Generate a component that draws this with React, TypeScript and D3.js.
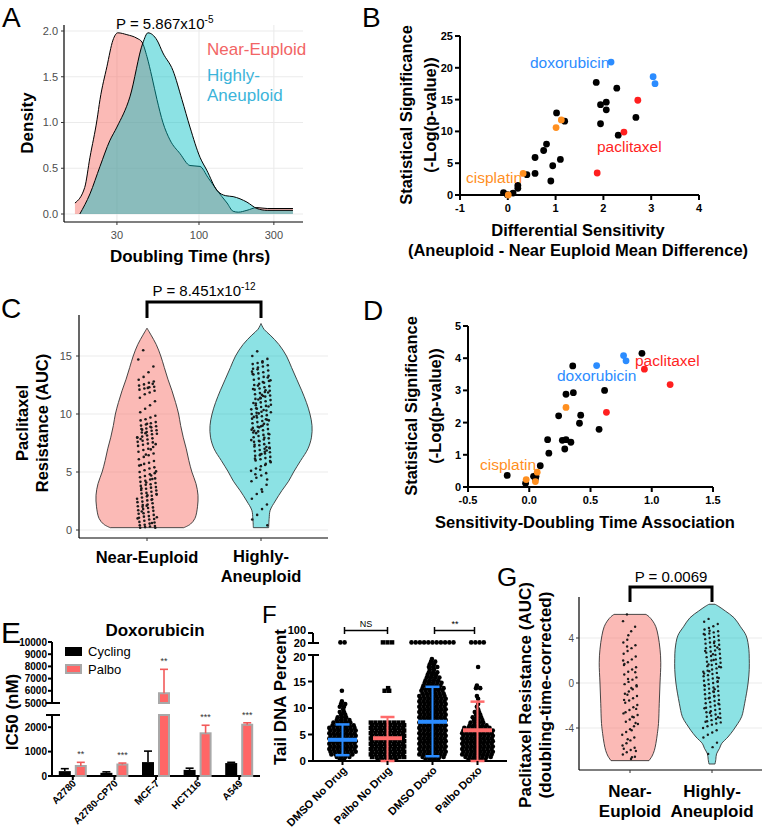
import React from 'react';
import * as d3 from 'd3';

const FONT = "'Liberation Sans', Arial, Helvetica, sans-serif";
const PINK = '#F8766D';
const CYAN = '#00BFC4';
const BLUE = '#2B8CFF';
const RED = '#FF1F1F';
const ORANGE = '#FF8F1F';
const GRID = '#EBEBEB';
const TICKGRAY = '#4D4D4D';

// ---------- Panel A : density of doubling time ----------
const aNearEuploid: [number, number][] = [
  [16.2, 0.12], [18.7, 0.29], [20.2, 0.62], [22.4, 1.03], [23.4, 1.25], [25.9, 1.61], [28.3, 1.9], [30.4, 1.98],
  [34.7, 1.96], [40.3, 1.92], [43.3, 1.88], [46.6, 1.72], [50.1, 1.5], [54, 1.25], [58.9, 1.0], [65.3, 0.81],
  [75.7, 0.66], [87.6, 0.53], [101.5, 0.52], [114, 0.4], [130, 0.26], [151, 0.12], [165, 0.03], [178, 0.02],
  [202, 0.04], [234, 0.07], [272, 0.06], [397, 0.06],
];
const aAneuploid: [number, number][] = [
  [17.4, 0.0], [20.2, 0.22], [23.4, 0.52], [27, 0.8], [30, 0.95], [36.3, 1.28], [43.9, 1.87], [47.3, 1.98],
  [54, 1.9], [58.9, 1.76], [68.2, 1.57], [77.9, 1.25], [87.6, 0.95], [101.5, 0.62], [112, 0.48], [130, 0.26],
  [148, 0.2], [165, 0.19], [202, 0.13], [234, 0.06], [272, 0.04], [397, 0.04],
];
const aXTicks = [30, 100, 300];
const aYTicks = [0, 0.5, 1, 1.5, 2];

// ---------- Panel B : differential sensitivity ----------
const bBlack: [number, number][] = [
  [1.85, 17.7], [2.28, 16.8], [1.94, 14.2], [2.06, 14.6], [2.06, 13.4], [2.68, 12.2], [1.94, 11.2], [2.31, 9.4],
  [1.02, 12.9], [1.19, 11.6], [0.81, 8.0], [0.75, 7.0], [0.57, 5.9], [1.1, 5.6], [0.94, 4.6], [0.57, 3.4],
  [0.4, 3.2], [0.9, 2.2], [0.21, 1.5], [0.21, 1.05], [-0.09, 0.37], [-0.01, 0.05], [0.11, 0.3],
];
const bBlue: [number, number][] = [[2.16, 20.9], [3.04, 18.6], [3.08, 17.5]];
const bRed: [number, number][] = [[2.72, 14.9], [2.43, 9.9], [1.87, 3.46]];
const bOrange: [number, number][] = [[1.12, 11.8], [1.01, 10.6], [0.32, 3.4], [0.01, 0.0]];
const bXTicks = [-1, 0, 1, 2, 3, 4];
const bYTicks = [0, 5, 10, 15, 20, 25];

// ---------- Panel C : paclitaxel resistance violins ----------
const cNearEuploidProfile: [number, number][] = [
  [0.2, 0.72], [0.5, 0.85], [1, 0.94], [2, 0.99], [3, 1.0], [4, 0.96], [5, 0.88], [6, 0.82], [7, 0.77], [8, 0.71],
  [9, 0.66], [10, 0.62], [11, 0.56], [12, 0.49], [13, 0.41], [14, 0.34], [15, 0.27], [16, 0.18], [16.8, 0.08], [17.4, 0],
];
const cAneuploidProfile: [number, number][] = [
  [0.2, 0.15], [1, 0.16], [1.7, 0.18], [2.5, 0.28], [3.4, 0.41], [4.2, 0.54], [5, 0.64], [6, 0.78], [7, 0.92], [8, 0.99],
  [9, 1.0], [10, 0.96], [11, 0.89], [12, 0.8], [13, 0.7], [14, 0.6], [15, 0.5], [16, 0.35], [16.8, 0.18], [17.3, 0.06], [17.8, 0],
];
const cNearEuploid = [
  15.5, 14.7, 14.1, 13.6, 13.2, 12.95, 12.8, 12.7, 12.55, 12.45, 12.35, 12.3, 12.2, 12.1, 12.0, 11.85, 11.7, 11.4, 11.1,
  10.75, 10.45, 10.15, 9.85, 9.7, 9.55, 9.45, 9.3, 9.2, 9.1, 9.0, 8.95, 8.85, 8.75, 8.7, 8.6, 8.55, 8.45, 8.4, 8.3, 8.25,
  8.15, 8.05, 7.95, 7.9, 7.8, 7.7, 7.6, 7.55, 7.45, 7.35, 7.25, 7.15, 7.0, 6.9, 6.75, 6.6, 6.45, 6.3, 6.1, 5.95, 5.8,
  5.7, 5.55, 5.4, 5.3, 5.15, 5.0, 4.9, 4.8, 4.65, 4.55, 4.45, 4.35, 4.25, 4.15, 4.05, 3.95, 3.9, 3.8, 3.7, 3.65, 3.55,
  3.45, 3.4, 3.3, 3.2, 3.15, 3.05, 2.95, 2.9, 2.8, 2.7, 2.65, 2.55, 2.45, 2.4, 2.3, 2.2, 2.15, 2.05, 1.95, 1.9, 1.8,
  1.7, 1.65, 1.55, 1.45, 1.4, 1.3, 1.2, 1.15, 1.05, 0.95, 0.9, 0.8, 0.7, 0.65, 0.55, 0.45, 0.4, 0.35, 0.3, 0.25, 0.2,
  0.2, 8.9, 8.35, 7.85, 7.4, 6.95, 6.5, 5.6, 5.05, 4.7, 4.1, 3.6, 3.1, 2.6, 2.1, 1.6, 1.1, 0.6, 9.15, 8.65, 8.0, 4.4,
  3.0, 2.0, 1.0, 12.6, 12.25,
];
const cAneuploid = [
  15.4, 15.0, 14.75, 14.55, 14.4, 14.3, 14.2, 14.1, 14.0, 13.9, 13.75, 13.6, 13.5, 13.4, 13.3, 13.2, 13.05, 12.95,
  12.85, 12.7, 12.6, 12.5, 12.4, 12.3, 12.2, 12.1, 12.0, 11.9, 11.8, 11.7, 11.6, 11.5, 11.4, 11.3, 11.2, 11.1, 11.0,
  10.9, 10.8, 10.7, 10.6, 10.5, 10.4, 10.3, 10.2, 10.1, 10.0, 9.9, 9.8, 9.7, 9.6, 9.5, 9.4, 9.3, 9.2, 9.1, 9.0, 8.9,
  8.8, 8.7, 8.6, 8.5, 8.4, 8.3, 8.2, 8.1, 8.0, 7.9, 7.8, 7.7, 7.6, 7.5, 7.4, 7.3, 7.2, 7.1, 7.0, 6.9, 6.8, 6.7, 6.6,
  6.5, 6.4, 6.3, 6.2, 6.1, 6.0, 5.85, 5.7, 5.5, 5.3, 5.1, 4.9, 4.7, 4.5, 4.2, 3.9, 3.5, 3.1, 2.7, 2.2, 1.8, 1.3, 0.9,
  0.4, 14.45, 13.85, 13.45, 13.15, 12.75, 12.45, 12.15, 11.85, 11.55, 11.25, 10.95, 10.65, 10.35, 10.05, 9.75, 9.45,
  9.15, 8.85, 8.55, 8.25, 7.95, 7.65, 7.35, 7.05, 6.75, 6.45, 6.15, 5.95, 5.6, 5.2, 4.8, 12.9, 12.05, 11.35, 10.75,
  10.15, 9.55, 8.95, 8.35, 7.75, 7.15, 6.55, 9.85, 8.65, 6.85, 11.65, 10.45, 13.65, 4.35, 3.3,
];
const cYTicks = [0, 5, 10, 15];
const violinGroups = ['Near-Euploid', 'Highly-Aneuploid'];

// ---------- Panel D : sensitivity vs doubling-time association ----------
const dBlack: [number, number][] = [
  [0.92, 4.15], [0.355, 3.76], [0.615, 3.0], [0.3, 2.88], [0.36, 2.93], [0.24, 2.21], [0.42, 2.23], [0.41, 1.98],
  [0.57, 1.79], [0.15, 1.47], [0.27, 1.45], [0.3, 1.47], [0.34, 1.39], [0.29, 1.18], [0.16, 1.05], [0.09, 0.66],
  [-0.18, 0.36], [0.035, 0.33], [0.055, 0.33], [-0.03, 0.12], [0.05, 0.26],
];
const dBlue: [number, number][] = [[0.77, 4.08], [0.79, 3.92], [0.55, 3.77]];
const dRed: [number, number][] = [[0.94, 3.66], [1.15, 3.18], [0.63, 2.32]];
const dOrange: [number, number][] = [[0.3, 2.47], [0.065, 0.46], [-0.025, 0.23], [0.05, 0.17]];
const dXTicks = [-0.5, 0, 0.5, 1, 1.5];
const dYTicks = [0, 1, 2, 3, 4, 5];

// ---------- Panel E : doxorubicin IC50 ----------
const eCellLines = ['A2780', 'A2780-CP70', 'MCF-7', 'HCT116', 'A549'];
const eConditions = ['Cycling', 'Palbo'];
const eCycling = [200, 130, 570, 250, 530];
const eCyclingErr = [100, 40, 450, 70, 30];
const ePalbo = [410, 470, 5800, 1750, 2100];
const ePalboErr = [150, 60, 1960, 330, 80];
const eStars = ['**', '***', '**', '***', '***'];
const eLowTicks = [0, 1000, 2000];
const eHighTicks = [5000, 6000, 7000, 8000, 9000, 10000];

// ---------- Panel F : tail DNA percent (counts per 0.5 % bin, 0-20) ----------
const fGroups = ['DMSO No Drug', 'Palbo No Drug', 'DMSO Doxo', 'Palbo Doxo'];
const fCountsDmsoNoDrug = [2, 4, 6, 7, 7, 7, 7, 7, 7, 7, 7, 7, 7, 6, 5, 4, 3, 2, 2, 1, 2, 2, 1, 0, 0, 0, 1, 0, 0, 0, 0, 0, 0, 0, 0, 0, 0, 0, 0, 0];
const fCountsPalboNoDrug = [5, 8, 8, 8, 8, 8, 8, 8, 8, 8, 8, 8, 8, 8, 8, 0, 0, 0, 0, 0, 0, 0, 0, 0, 0, 0, 2, 1, 0, 0, 0, 0, 0, 0, 0, 0, 0, 0, 0, 0];
const fCountsDmsoDoxo = [4, 6, 7, 7, 7, 7, 7, 7, 7, 7, 7, 7, 7, 7, 7, 7, 7, 7, 7, 7, 7, 7, 7, 7, 7, 6, 6, 6, 5, 5, 4, 4, 3, 3, 2, 3, 2, 2, 1, 0];
const fCountsPalboDoxo = [5, 7, 8, 8, 8, 8, 8, 8, 8, 8, 8, 8, 7, 5, 4, 3, 3, 2, 2, 1, 1, 1, 0, 1, 1, 0, 0, 2, 1, 0, 0, 0, 0, 0, 0, 1, 0, 0, 0, 0];
const fAbove20 = [2, 3, 11, 4];
const fMean = [4.0, 4.3, 7.4, 5.8];
const fSdLow = [1.1, 0, 0.9, 0];
const fSdHigh = [6.9, 8.3, 14.0, 11.2];
const fLowTicks = [0, 5, 10, 15, 20];
const fHighTicks = [20, 100];

// ---------- Panel G : doubling-time-corrected resistance ----------
const gNearEuploidProfile: [number, number][] = [
  [-6.9, 0.5], [-6.5, 0.58], [-6, 0.64], [-5.4, 0.68], [-4.5, 0.72], [-3.6, 0.75], [-1.8, 0.77], [0, 0.79],
  [1.8, 0.81], [3, 0.79], [4.2, 0.74], [5.0, 0.68], [5.5, 0.6], [5.9, 0.5], [6.1, 0.42],
];
const gAneuploidProfile: [number, number][] = [
  [-7.2, 0.08], [-6.8, 0.1], [-6.3, 0.12], [-5.8, 0.2], [-5.4, 0.25], [-4.8, 0.42], [-4.2, 0.56], [-3.6, 0.68],
  [-3.0, 0.78], [-1.8, 0.86], [0, 0.95], [1.2, 0.98], [2.2, 0.98], [3.0, 0.97], [4.2, 0.9], [5.0, 0.75], [5.8, 0.58],
  [6.4, 0.35], [6.8, 0.18], [7.0, 0.08],
];
const gNearEuploid = [
  6.1, 5.5, 5.0, 4.6, 3.85, 3.6, 3.35, 3.1, 2.85, 2.6, 2.35, 2.1, 1.85, 1.6, 1.4, 1.2, 1.0, 0.75, 0.5, 0.3, 0.1, -0.1,
  -0.3, -0.55, -0.75, -0.95, -1.15, -1.35, -1.55, -1.75, -1.95, -2.15, -2.4, -2.6, -2.85, -3.05, -3.25, -3.45, -3.65,
  -3.85, -4.1, -4.35, -4.6, -4.85, -5.1, -5.35, -5.55, -5.75, -5.95, -6.15, -6.35, -6.55, -6.75, 3.25, 2.0, 0.95,
  -0.45, -1.05, -2.7, -3.55, -4.2, -5.0, -5.85, -6.05, -6.6, 0.35, -1.5, -2.3, -3.0, 4.25, 1.7, -0.2,
];
const gAneuploid = [
  5.7, 5.45, 5.25, 5.05, 4.9, 4.75, 4.6, 4.5, 4.4, 4.3, 4.2, 4.1, 4.0, 3.9, 3.8, 3.7, 3.6, 3.5, 3.4, 3.3, 3.2, 3.1, 3.0,
  2.9, 2.8, 2.7, 2.6, 2.5, 2.4, 2.3, 2.2, 2.1, 2.0, 1.9, 1.8, 1.7, 1.6, 1.5, 1.4, 1.3, 1.2, 1.1, 1.0, 0.9, 0.8, 0.7,
  0.6, 0.5, 0.4, 0.3, 0.2, 0.1, 0.0, -0.1, -0.2, -0.3, -0.4, -0.5, -0.6, -0.7, -0.8, -0.9, -1.0, -1.1, -1.2, -1.3,
  -1.4, -1.5, -1.6, -1.7, -1.8, -1.9, -2.0, -2.1, -2.2, -2.3, -2.4, -2.5, -2.6, -2.7, -2.8, -2.9, -3.0, -3.1, -3.2,
  -3.3, -3.4, -3.5, -3.6, -3.7, -3.85, -4.0, -4.2, -4.4, -4.6, -4.85, -5.3, -5.7, -6.3, 4.35, 3.15, 2.55, 1.65, 0.85,
  0.15, -0.75, -1.35, -2.25, -3.05, 2.05, 1.05, -0.25, -1.85, 3.55, 4.65, 2.85, 0.45, -1.15, -2.65, -3.45, 1.45, -0.55,
];
const gYTicks = [-4, 0, 4];

// ---------- helpers ----------
const jitter = (i: number) => ((i * 0.7548776662 + 0.31) % 1) - 0.5;

function PanelLetter({ x, y, t, size = 28 }: { x: number; y: number; t: string; size?: number }) {
  return <text x={x} y={y} fontSize={size} fill="#000">{t}</text>;
}

function Violin({ profile, values, cx, y, maxW, fill, op, jw, r }: any) {
  const area = d3.area<[number, number]>()
    .y((d) => y(d[0]))
    .x0((d) => cx - d[1] * maxW)
    .x1((d) => cx + d[1] * maxW)
    .curve(d3.curveCatmullRom);
  return (
    <g>
      <path d={area(profile) || ''} fill={fill} fillOpacity={op} stroke="#333" strokeWidth={0.9} />
      {values.map((v: number, i: number) => (
        <circle key={i} cx={cx + jitter(i) * 2 * jw} cy={y(v)} r={r} fill="#1a1a1a" />
      ))}
    </g>
  );
}

// ---------- Panels ----------
function PanelA() {
  const x = d3.scaleLog().domain([13.8, 460]).range([64, 303]);
  const y = d3.scaleLinear().domain([0, 2]).range([214, 31]);
  const area = d3.area<[number, number]>().x((d) => x(d[0])).y0(y(0)).y1((d) => y(d[1])).curve(d3.curveMonotoneX);
  const line = d3.line<[number, number]>().x((d) => x(d[0])).y((d) => y(d[1])).curve(d3.curveMonotoneX);
  return (
    <g>
      <PanelLetter x={2} y={27} t="A" />
      {aYTicks.map((t) => <line key={'gy' + t} x1={64} x2={303} y1={y(t)} y2={y(t)} stroke={GRID} strokeWidth={1.1} />)}
      {aXTicks.map((t) => <line key={'gx' + t} x1={x(t)} x2={x(t)} y1={25} y2={222} stroke={GRID} strokeWidth={1.1} />)}
      <path d={area(aNearEuploid) || ''} fill={PINK} fillOpacity={0.5} />
      <path d={line(aNearEuploid) || ''} fill="none" stroke="#000" strokeWidth={1} />
      <path d={area(aAneuploid) || ''} fill={CYAN} fillOpacity={0.45} />
      <path d={line(aAneuploid) || ''} fill="none" stroke="#000" strokeWidth={1} />
      <line x1={64} x2={64} y1={25} y2={222} stroke="#000" strokeWidth={1.2} />
      <line x1={64} x2={303} y1={222} y2={222} stroke="#000" strokeWidth={1.2} />
      {aYTicks.map((t) => (
        <g key={'ty' + t}>
          <line x1={61} x2={64} y1={y(t)} y2={y(t)} stroke="#333" />
          <text x={58} y={y(t)} dy="0.35em" textAnchor="end" fontSize={11} fill={TICKGRAY}>{t.toFixed(1)}</text>
        </g>
      ))}
      {aXTicks.map((t) => (
        <g key={'tx' + t}>
          <line x1={x(t)} x2={x(t)} y1={222} y2={225} stroke="#333" />
          <text x={x(t)} y={239} textAnchor="middle" fontSize={11} fill={TICKGRAY}>{t}</text>
        </g>
      ))}
      <text x={190} y={262} textAnchor="middle" fontSize={17} fontWeight="bold">Doubling Time (hrs)</text>
      <text transform="translate(33,123) rotate(-90)" textAnchor="middle" fontSize={17} fontWeight="bold">Density</text>
      <text x={116} y={29} fontSize={15}>P = 5.867x10<tspan dy={-6} fontSize={10}>-5</tspan></text>
      <text x={207} y={55} fontSize={17} fill="#F26565">Near-Euploid</text>
      <text x={207} y={81} fontSize={17} fill="#3CB4DA">Highly-</text>
      <text x={207} y={101} fontSize={17} fill="#3CB4DA">Aneuploid</text>
    </g>
  );
}

function Scatter({ x, y, xTicks, yTicks, black, blue, red, orange, xFmt }: any) {
  const [x0, x1] = x.range();
  const [y0, y1] = y.range();
  const dot = (arr: [number, number][], c: string, k: string) =>
    arr.map((d, i) => <circle key={k + i} cx={x(d[0])} cy={y(d[1])} r={3.4} fill={c} />);
  return (
    <g>
      <line x1={x0} x2={x0} y1={y1} y2={y0 + 1} stroke="#000" strokeWidth={2} />
      <line x1={x0 - 1} x2={x1} y1={y0} y2={y0} stroke="#000" strokeWidth={2} />
      {yTicks.map((t: number) => (
        <g key={'y' + t}>
          <line x1={x0 - 5} x2={x0} y1={y(t)} y2={y(t)} stroke="#000" strokeWidth={2} />
          <text x={x0 - 7} y={y(t)} dy="0.36em" textAnchor="end" fontSize={11} fontWeight="bold">{t}</text>
        </g>
      ))}
      {xTicks.map((t: number) => (
        <g key={'x' + t}>
          <line x1={x(t)} x2={x(t)} y1={y0} y2={y0 + 5} stroke="#000" strokeWidth={2} />
          <text x={x(t)} y={y0 + 17} textAnchor="middle" fontSize={11} fontWeight="bold">{xFmt(t)}</text>
        </g>
      ))}
      {dot(black, '#000', 'k')}
      {dot(orange, ORANGE, 'o')}
      {dot(blue, BLUE, 'b')}
      {dot(red, RED, 'r')}
    </g>
  );
}

function PanelB() {
  const x = d3.scaleLinear().domain([-1, 4]).range([460, 699]);
  const y = d3.scaleLinear().domain([0, 25]).range([195, 36]);
  return (
    <g>
      <PanelLetter x={362} y={27} t="B" />
      <Scatter x={x} y={y} xTicks={bXTicks} yTicks={bYTicks} black={bBlack} blue={bBlue} red={bRed} orange={bOrange} xFmt={(t: number) => String(t)} />
      <text x={530} y={68} fontSize={15.5} fill={BLUE}>doxorubicin</text>
      <text x={597} y={152} fontSize={15.5} fill={RED}>paclitaxel</text>
      <text x={466} y={183} fontSize={15.5} fill={ORANGE}>cisplatin</text>
      <text transform="translate(412,115) rotate(-90)" textAnchor="middle" fontSize={16.5} fontWeight="bold">Statistical Significance</text>
      <text transform="translate(436,115) rotate(-90)" textAnchor="middle" fontSize={16.5} fontWeight="bold">(-Log(p-value))</text>
      <text x={578} y={236} textAnchor="middle" fontSize={16.5} fontWeight="bold">Differential Sensitivity</text>
      <text x={578} y={256} textAnchor="middle" fontSize={16.5} fontWeight="bold">(Aneuploid - Near Euploid Mean Difference)</text>
    </g>
  );
}

function PanelC() {
  const y = d3.scaleLinear().domain([0, 15]).range([530, 356]);
  const x = d3.scaleBand().domain(violinGroups).range([90, 318]);
  const c0 = (x(violinGroups[0]) || 0) + x.bandwidth() / 2;
  const c1 = (x(violinGroups[1]) || 0) + x.bandwidth() / 2;
  return (
    <g>
      <PanelLetter x={1} y={318} t="C" />
      {cYTicks.map((t) => <line key={'g' + t} x1={79} x2={328} y1={y(t)} y2={y(t)} stroke={GRID} strokeWidth={1.1} />)}
      <Violin profile={cNearEuploidProfile} values={cNearEuploid} cx={c0} y={y} maxW={51} fill={PINK} op={0.5} jw={10} r={1.3} />
      <Violin profile={cAneuploidProfile} values={cAneuploid} cx={c1} y={y} maxW={51} fill={CYAN} op={0.45} jw={10} r={1.3} />
      <line x1={79} x2={79} y1={315} y2={538} stroke="#000" strokeWidth={1.2} />
      <line x1={79} x2={328} y1={538} y2={538} stroke="#000" strokeWidth={1.2} />
      {cYTicks.map((t) => (
        <g key={'t' + t}>
          <line x1={76} x2={79} y1={y(t)} y2={y(t)} stroke="#333" />
          <text x={72} y={y(t)} dy="0.35em" textAnchor="end" fontSize={11} fill={TICKGRAY}>{t}</text>
        </g>
      ))}
      {[c0, c1].map((c, i) => <line key={'xt' + i} x1={c} x2={c} y1={538} y2={541} stroke="#333" />)}
      <text x={c0} y={563} textAnchor="middle" fontSize={16.5} fontWeight="bold">Near-Euploid</text>
      <text x={c1} y={562} textAnchor="middle" fontSize={16.5} fontWeight="bold">Highly-</text>
      <text x={c1} y={582} textAnchor="middle" fontSize={16.5} fontWeight="bold">Aneuploid</text>
      <text transform="translate(28,423) rotate(-90)" textAnchor="middle" fontSize={16.5} fontWeight="bold">Paclitaxel</text>
      <text transform="translate(48,423) rotate(-90)" textAnchor="middle" fontSize={16.5} fontWeight="bold">Resistance (AUC)</text>
      <path d={`M${c0},318 V302 H${c1} V318`} fill="none" stroke="#000" strokeWidth={3} />
      <text x={(c0 + c1) / 2} y={296} textAnchor="middle" fontSize={15}>P = 8.451x10<tspan dy={-6} fontSize={10}>-12</tspan></text>
    </g>
  );
}

function PanelD() {
  const x = d3.scaleLinear().domain([-0.5, 1.5]).range([468, 713]);
  const y = d3.scaleLinear().domain([0, 5]).range([487, 326]);
  return (
    <g>
      <PanelLetter x={363} y={320} t="D" />
      <Scatter x={x} y={y} xTicks={dXTicks} yTicks={dYTicks} black={dBlack} blue={dBlue} red={dRed} orange={dOrange} xFmt={(t: number) => t.toFixed(1)} />
      <text x={557} y={381} fontSize={15.5} fill={BLUE}>doxorubicin</text>
      <text x={635} y={366} fontSize={15.5} fill={RED}>paclitaxel</text>
      <text x={480} y={470} fontSize={15.5} fill={ORANGE}>cisplatin</text>
      <text transform="translate(417,406) rotate(-90)" textAnchor="middle" fontSize={16.5} fontWeight="bold">Statistical Significance</text>
      <text transform="translate(441,406) rotate(-90)" textAnchor="middle" fontSize={16.5} fontWeight="bold">(-Log(p-value))</text>
      <text x={585} y={528} textAnchor="middle" fontSize={16.5} fontWeight="bold">Sensitivity-Doubling Time Association</text>
    </g>
  );
}

function PanelE() {
  const yLow = d3.scaleLinear().domain([0, 2500]).range([776, 715]);
  const yHigh = d3.scaleLinear().domain([5000, 10000]).range([703, 642]);
  const yv = (v: number) => (v <= 2500 ? yLow(v) : yHigh(v));
  const xg = d3.scaleBand().domain(eCellLines).range([52, 260]);
  const xs = d3.scaleBand().domain(eConditions).range([0, xg.bandwidth()]).paddingInner(0.25).paddingOuter(0.425);
  const bar = (v: number, x0: number, w: number, fill: string, stroke: string | null, k: string) => {
    const sw = stroke ? 2 : 0;
    if (v <= 2500) {
      return <rect key={k} x={x0} y={yLow(v)} width={w} height={776 - yLow(v)} fill={fill} stroke={stroke || 'none'} strokeWidth={sw} />;
    }
    return (
      <g key={k}>
        <rect x={x0} y={715} width={w} height={61} fill={fill} stroke={stroke || 'none'} strokeWidth={sw} />
        <rect x={x0} y={yHigh(v)} width={w} height={703 - yHigh(v)} fill={fill} stroke={stroke || 'none'} strokeWidth={sw} />
      </g>
    );
  };
  const err = (v: number, e: number, cx: number, color: string, k: string) => (
    <g key={k} stroke={color} strokeWidth={1.6}>
      <line x1={cx} x2={cx} y1={yv(v)} y2={yv(v + e)} />
      <line x1={cx - 4} x2={cx + 4} y1={yv(v + e)} y2={yv(v + e)} />
    </g>
  );
  return (
    <g>
      <PanelLetter x={1} y={643} t="E" size={30} />
      <text x={155} y={636} textAnchor="middle" fontSize={17} fontWeight="bold">Doxorubicin</text>
      <line x1={52} x2={52} y1={642} y2={703} stroke="#000" strokeWidth={2} />
      <line x1={52} x2={52} y1={715} y2={776} stroke="#000" strokeWidth={2} />
      <line x1={46} x2={60} y1={703} y2={703} stroke="#000" strokeWidth={2} />
      <line x1={46} x2={60} y1={715} y2={715} stroke="#000" strokeWidth={2} />
      <line x1={51} x2={260} y1={776} y2={776} stroke="#000" strokeWidth={2} />
      {eLowTicks.map((t) => (
        <g key={'l' + t}>
          <line x1={48} x2={52} y1={yLow(t)} y2={yLow(t)} stroke="#000" strokeWidth={2} />
          <text x={47} y={yLow(t)} dy="0.36em" textAnchor="end" fontSize={10} fontWeight="bold">{t}</text>
        </g>
      ))}
      {eHighTicks.map((t) => (
        <g key={'h' + t}>
          <line x1={48} x2={52} y1={yHigh(t)} y2={yHigh(t)} stroke="#000" strokeWidth={2} />
          <text x={47} y={yHigh(t)} dy="0.36em" textAnchor="end" fontSize={10} fontWeight="bold">{t}</text>
        </g>
      ))}
      {eCellLines.map((g, i) => {
        const gx = xg(g) || 0;
        const xc = gx + (xs('Cycling') || 0);
        const xp = gx + (xs('Palbo') || 0);
        const w = xs.bandwidth();
        const cx = gx + xg.bandwidth() / 2;
        return (
          <g key={g}>
            {bar(eCycling[i], xc, w, '#000', null, 'c' + i)}
            {err(eCycling[i], eCyclingErr[i], xc + w / 2, '#000', 'ce' + i)}
            {bar(ePalbo[i], xp + 1, w - 2, '#FF6666', '#A8A8A8', 'p' + i)}
            {err(ePalbo[i], ePalboErr[i], xp + w / 2, '#F25A5A', 'pe' + i)}
            <text x={xp + w / 2} y={yv(ePalbo[i] + ePalboErr[i]) - 5} textAnchor="middle" fontSize={9} fill="#333">{eStars[i]}</text>
            <line x1={cx} x2={cx} y1={776} y2={780} stroke="#000" strokeWidth={2} />
            <text transform={`translate(${cx + 4},${784}) rotate(-45)`} textAnchor="end" fontSize={10} fontWeight="bold">{g}</text>
          </g>
        );
      })}
      <rect x={65} y={647} width={17} height={9} fill="#000" />
      <text x={88} y={656} fontSize={13}>Cycling</text>
      <rect x={66} y={665} width={15} height={8} fill="#FF6666" stroke="#A8A8A8" strokeWidth={2} />
      <text x={88} y={674} fontSize={13}>Palbo</text>
      <text transform="translate(18,712) rotate(-90)" textAnchor="middle" fontSize={17} fontWeight="bold">IC50 (nM)</text>
    </g>
  );
}

function PanelF() {
  const yLow = d3.scaleLinear().domain([0, 20]).range([761, 655]);
  const yHigh = d3.scaleLinear().domain([20, 100]).range([643, 633]);
  const yv = (v: number) => (v <= 20 ? yLow(v) : yHigh(v));
  const x = d3.scaleBand().domain(fGroups).range([320, 500]);
  const counts = [fCountsDmsoNoDrug, fCountsPalboNoDrug, fCountsDmsoDoxo, fCountsPalboDoxo];
  const colors = [BLUE, '#FF6B6B', BLUE, '#FF6B6B'];
  const marks: JSX.Element[] = [];
  fGroups.forEach((g, gi) => {
    const cx = (x(g) || 0) + x.bandwidth() / 2;
    const square = gi === 1;
    const sp = square ? 4.6 : 4.2;
    const put = (n: number, yy: number, key: string, shift: number) => {
      for (let k = 0; k < n; k++) {
        const px = cx + (k - (n - 1) / 2) * sp + shift;
        marks.push(square
          ? <rect key={key + k} x={px - 2.2} y={yy - 2.2} width={4.4} height={4.4} fill="#000" />
          : <circle key={key + k} cx={px} cy={yy} r={2.3} fill="#000" />);
      }
    };
    counts[gi].forEach((n, b) => put(n, yLow(b * 0.5 + 0.25), `f${gi}-${b}-`, b % 2 ? 0.6 : -0.6));
    put(fAbove20[gi], yHigh(25), `fu${gi}-`, 0);
  });
  const stats = fGroups.map((g, gi) => {
    const cx = (x(g) || 0) + x.bandwidth() / 2;
    const c = colors[gi];
    return (
      <g key={'s' + gi} stroke={c}>
        <line x1={cx} x2={cx} y1={yv(fSdLow[gi])} y2={yv(fSdHigh[gi])} strokeWidth={2} />
        <line x1={cx - 7} x2={cx + 7} y1={yv(fSdLow[gi])} y2={yv(fSdLow[gi])} strokeWidth={2.5} />
        <line x1={cx - 7} x2={cx + 7} y1={yv(fSdHigh[gi])} y2={yv(fSdHigh[gi])} strokeWidth={2.5} />
        <line x1={cx - 14.5} x2={cx + 14.5} y1={yv(fMean[gi])} y2={yv(fMean[gi])} strokeWidth={4} />
      </g>
    );
  });
  const c = (i: number) => (x(fGroups[i]) || 0) + x.bandwidth() / 2;
  const highLabelY = [643.5, 630];
  const lowLabelShift = (t: number) => (t === 20 ? 2 : 0);
  return (
    <g>
      <PanelLetter x={262} y={623} t="F" size={24} />
      <line x1={313} x2={313} y1={633} y2={643} stroke="#000" strokeWidth={2} />
      <line x1={313} x2={313} y1={655} y2={761} stroke="#000" strokeWidth={2} />
      <line x1={312} x2={507} y1={761} y2={761} stroke="#000" strokeWidth={2} />
      <line x1={313} x2={319} y1={643} y2={643} stroke="#000" strokeWidth={2} />
      <line x1={313} x2={319} y1={655} y2={655} stroke="#000" strokeWidth={2} />
      {fHighTicks.map((t, i) => (
        <g key={'h' + t}>
          <line x1={308} x2={313} y1={yHigh(t)} y2={yHigh(t)} stroke="#000" strokeWidth={2} />
          <text x={306} y={highLabelY[i]} dy="0.36em" textAnchor="end" fontSize={11} fontWeight="bold">{t}</text>
        </g>
      ))}
      {fLowTicks.map((t) => (
        <g key={'l' + t}>
          <line x1={308} x2={313} y1={yLow(t)} y2={yLow(t)} stroke="#000" strokeWidth={2} />
          <text x={306} y={yLow(t) + lowLabelShift(t)} dy="0.36em" textAnchor="end" fontSize={11.5} fontWeight="bold">{t}</text>
        </g>
      ))}
      {marks}
      {stats}
      {fGroups.map((g, gi) => (
        <g key={'xl' + gi}>
          <line x1={c(gi)} x2={c(gi)} y1={761} y2={765} stroke="#000" strokeWidth={2} />
          <text transform={`translate(${c(gi) + 5},${771}) rotate(-45)`} textAnchor="end" fontSize={11} fontWeight="bold">{g}</text>
        </g>
      ))}
      <path d={`M${c(0) + 2},627 V634 M${c(0) + 2},630.5 H${c(1)} M${c(1)},627 V634`} stroke="#000" strokeWidth={1.5} fill="none" />
      <text x={(c(0) + c(1)) / 2 + 1} y={627} textAnchor="middle" fontSize={9}>NS</text>
      <path d={`M${c(2) + 2},627 V634 M${c(2) + 2},630.5 H${c(3) - 3} M${c(3) - 3},627 V634`} stroke="#000" strokeWidth={1.5} fill="none" />
      <text x={(c(2) + c(3)) / 2} y={627} textAnchor="middle" fontSize={9}>**</text>
      <text transform="translate(286,697) rotate(-90)" textAnchor="middle" fontSize={17} fontWeight="bold">Tail DNA Percent</text>
    </g>
  );
}

function PanelG() {
  const y = d3.scaleLinear().domain([-4, 4]).range([728, 638]);
  const x = d3.scaleBand().domain(violinGroups).range([589, 753]);
  const c0 = (x(violinGroups[0]) || 0) + x.bandwidth() / 2;
  const c1 = (x(violinGroups[1]) || 0) + x.bandwidth() / 2;
  return (
    <g>
      <PanelLetter x={497} y={586} t="G" size={26} />
      {gYTicks.map((t) => <line key={'g' + t} x1={579} x2={762} y1={y(t)} y2={y(t)} stroke={GRID} strokeWidth={1.1} />)}
      <Violin profile={gNearEuploidProfile} values={gNearEuploid} cx={c0} y={y} maxW={38} fill={PINK} op={0.5} jw={8} r={1.2} />
      <Violin profile={gAneuploidProfile} values={gAneuploid} cx={c1} y={y} maxW={38} fill={CYAN} op={0.45} jw={9} r={1.2} />
      <line x1={579} x2={579} y1={597} y2={770} stroke="#000" strokeWidth={1.2} />
      <line x1={579} x2={762} y1={770} y2={770} stroke="#000" strokeWidth={1.2} />
      {gYTicks.map((t) => (
        <g key={'t' + t}>
          <line x1={576} x2={579} y1={y(t)} y2={y(t)} stroke="#333" />
          <text x={574} y={y(t)} dy="0.35em" textAnchor="end" fontSize={10} fill={TICKGRAY}>{t}</text>
        </g>
      ))}
      {[c0, c1].map((c, i) => <line key={'xt' + i} x1={c} x2={c} y1={770} y2={773} stroke="#333" />)}
      <text x={c0} y={797} textAnchor="middle" fontSize={17} fontWeight="bold">Near-</text>
      <text x={c0} y={817} textAnchor="middle" fontSize={17} fontWeight="bold">Euploid</text>
      <text x={c1} y={797} textAnchor="middle" fontSize={17} fontWeight="bold">Highly-</text>
      <text x={c1} y={817} textAnchor="middle" fontSize={17} fontWeight="bold">Aneuploid</text>
      <text transform="translate(531,695) rotate(-90)" textAnchor="middle" fontSize={17} fontWeight="bold">Paclitaxel Resistance (AUC)</text>
      <text transform="translate(551,695) rotate(-90)" textAnchor="middle" fontSize={17} fontWeight="bold">(doubling-time-corrected)</text>
      <path d={`M${c0},602 V587 H${c1} V602`} fill="none" stroke="#000" strokeWidth={3} />
      <text x={(c0 + c1) / 2} y={582} textAnchor="middle" fontSize={15}>P = 0.0069</text>
    </g>
  );
}

export default function App() {
  return (
    <svg width={762} height={833} style={{ position: 'absolute', left: 0, top: 0, background: '#fff' }} fontFamily={FONT}>
      <rect width={762} height={833} fill="#fff" />
      <PanelA />
      <PanelB />
      <PanelC />
      <PanelD />
      <PanelE />
      <PanelF />
      <PanelG />
    </svg>
  );
}
